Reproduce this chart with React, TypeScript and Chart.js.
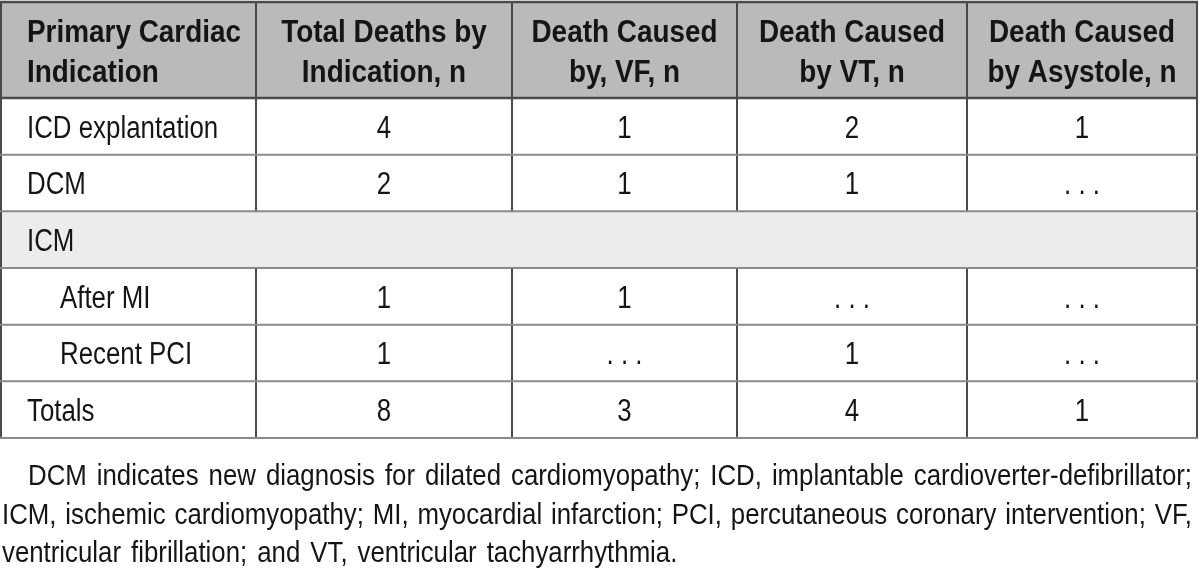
import React, { useEffect, useRef } from "react";
import { Chart, registerables } from "chart.js";

Chart.register(...registerables);

// ---------- data ----------
const headerLines: string[][] = [
  ["Primary Cardiac", "Indication"],
  ["Total Deaths by", "Indication, n"],
  ["Death Caused", "by, VF, n"],
  ["Death Caused", "by VT, n"],
  ["Death Caused", "by Asystole, n"],
];
const indications = ["ICD explantation", "DCM", "ICM", "After MI", "Recent PCI", "Totals"];
const indentLevels = [0, 0, 0, 1, 1, 0];
const groupRows = ["ICM"];
const totalDeaths: (number | null)[] = [4, 2, null, 1, 1, 8];
const vfDeaths: (number | null)[] = [1, 1, null, 1, null, 3];
const vtDeaths: (number | null)[] = [2, 1, null, null, 1, 4];
const asystoleDeaths: (number | null)[] = [1, null, null, null, null, 1];
const missingMark = ". . .";
const footnoteLines = [
  "DCM indicates new diagnosis for dilated cardiomyopathy; ICD, implantable cardioverter-defibrillator;",
  "ICM, ischemic cardiomyopathy; MI, myocardial infarction; PCI, percutaneous coronary intervention; VF,",
  "ventricular fibrillation; and VT, ventricular tachyarrhythmia.",
];

// ---------- layout / style ----------
const COL_WIDTHS = [255, 256, 225, 230, 230];
const HEADER_UNITS = 96;
const ROW_UNITS = 56.67;
const FAMILY = '"Liberation Sans", Arial, sans-serif';
const BODY_FONT = `31px ${FAMILY}`;
const HEAD_FONT = `bold 31px ${FAMILY}`;
const NOTE_FONT = `30px ${FAMILY}`;
const BODY_SX = 0.834;
const HEAD_SX = 0.9;
const NOTE_SX = 0.86;
const NOTE_SPACE = 1.4;
const TEXT_COLOR = "#151515";
const HEADER_BG = "#b9babc";
const GROUP_BG = "#ececec";
const DARK_LINE = "#4a4a4a";
const LIGHT_LINE = "#8a8a8a";

function drawScaledText(
  ctx: CanvasRenderingContext2D,
  text: string,
  x: number,
  y: number,
  align: CanvasTextAlign,
  font: string,
  sx: number
) {
  ctx.save();
  ctx.font = font;
  ctx.textAlign = align;
  ctx.textBaseline = "alphabetic";
  ctx.fillStyle = TEXT_COLOR;
  ctx.translate(x, y);
  ctx.scale(sx, 1);
  ctx.fillText(text, 0, 0);
  ctx.restore();
}

function drawJustified(
  ctx: CanvasRenderingContext2D,
  text: string,
  left: number,
  right: number,
  y: number,
  font: string,
  sx: number,
  justify: boolean
) {
  ctx.save();
  ctx.font = font;
  ctx.fillStyle = TEXT_COLOR;
  ctx.textBaseline = "alphabetic";
  ctx.textAlign = "left";
  const words = text.split(" ");
  const widths = words.map((w) => ctx.measureText(w).width * sx);
  const spaceW = ctx.measureText(" ").width * sx * NOTE_SPACE;
  const total = widths.reduce((a, b) => a + b, 0);
  const gap = justify && words.length > 1 ? (right - left - total) / (words.length - 1) : spaceW;
  let x = left;
  words.forEach((w, i) => {
    ctx.save();
    ctx.translate(x, y);
    ctx.scale(sx, 1);
    ctx.fillText(w, 0, 0);
    ctx.restore();
    x += widths[i] + gap;
  });
  ctx.restore();
}

const tablePlugin = {
  id: "tablePlugin",
  afterDraw(chart: any) {
    const ctx: CanvasRenderingContext2D = chart.ctx;
    const xs = chart.scales.x;
    const ys = chart.scales.y;
    const columns = [indications, totalDeaths, vfDeaths, vtDeaths, asystoleDeaths];

    const colEdges: number[] = [0];
    COL_WIDTHS.forEach((w) => colEdges.push(colEdges[colEdges.length - 1] + w));
    const rowEdges: number[] = [0, HEADER_UNITS];
    indications.forEach(() => rowEdges.push(rowEdges[rowEdges.length - 1] + ROW_UNITS));

    const X = (v: number) => xs.getPixelForValue(v);
    const Y = (v: number) => ys.getPixelForValue(v);
    const left = X(0);
    const right = X(colEdges[colEdges.length - 1]);

    ctx.save();
    // backgrounds
    ctx.fillStyle = "#ffffff";
    ctx.fillRect(left, Y(0), right - left, Y(rowEdges[rowEdges.length - 1]) - Y(0));
    ctx.fillStyle = HEADER_BG;
    ctx.fillRect(left, Y(0), right - left, Y(HEADER_UNITS) - Y(0));
    indications.forEach((name, i) => {
      if (groupRows.includes(name)) {
        ctx.fillStyle = GROUP_BG;
        ctx.fillRect(left, Y(rowEdges[i + 1]), right - left, Y(rowEdges[i + 2]) - Y(rowEdges[i + 1]));
      }
    });

    // vertical lines
    ctx.lineWidth = 2;
    ctx.strokeStyle = DARK_LINE;
    colEdges.forEach((e, ci) => {
      const px = X(e);
      const isOuter = ci === 0 || ci === colEdges.length - 1;
      const segs: [number, number][] = [];
      segs.push([rowEdges[0], rowEdges[1]]);
      indications.forEach((name, ri) => {
        if (isOuter || !groupRows.includes(name)) segs.push([rowEdges[ri + 1], rowEdges[ri + 2]]);
      });
      segs.forEach(([a, b]) => {
        ctx.beginPath();
        ctx.moveTo(px, Y(a));
        ctx.lineTo(px, Y(b));
        ctx.stroke();
      });
    });

    // horizontal lines
    rowEdges.forEach((e, ri) => {
      ctx.beginPath();
      ctx.lineWidth = ri <= 1 ? 2.5 : 2;
      ctx.strokeStyle = ri <= 1 ? DARK_LINE : LIGHT_LINE;
      ctx.moveTo(left - 1, Y(e));
      ctx.lineTo(right + 1, Y(e));
      ctx.stroke();
    });

    // header text
    const headCenter = Y(HEADER_UNITS / 2);
    headerLines.forEach((lines, ci) => {
      lines.forEach((t, li) => {
        const baseline = headCenter + (li - (lines.length - 1) / 2) * 40 + 12.5;
        if (ci === 0) drawScaledText(ctx, t, X(colEdges[0]) + 26, baseline, "left", HEAD_FONT, HEAD_SX);
        else drawScaledText(ctx, t, X((colEdges[ci] + colEdges[ci + 1]) / 2), baseline, "center", HEAD_FONT, HEAD_SX);
      });
    });

    // body text
    indications.forEach((name, ri) => {
      const baseline = Y((rowEdges[ri + 1] + rowEdges[ri + 2]) / 2) + 11.5;
      drawScaledText(ctx, name, X(colEdges[0]) + 26 + indentLevels[ri] * 33, baseline, "left", BODY_FONT, BODY_SX);
      if (groupRows.includes(name)) return;
      for (let ci = 1; ci < columns.length; ci++) {
        const v = columns[ci][ri] as number | null;
        const cx = X((colEdges[ci] + colEdges[ci + 1]) / 2);
        drawScaledText(ctx, v === null ? missingMark : String(v), cx, baseline, "center", BODY_FONT, BODY_SX);
      }
    });

    // footnote
    const tableBottom = Y(rowEdges[rowEdges.length - 1]);
    footnoteLines.forEach((line, i) => {
      const baseline = tableBottom + 47 + i * 38.5;
      const l = i === 0 ? left + 27 : left + 1;
      drawJustified(ctx, line, l, right - 5, baseline, NOTE_FONT, NOTE_SX, i < footnoteLines.length - 1);
    });
    ctx.restore();
  },
};

export default function App() {
  const canvasRef = useRef<HTMLCanvasElement | null>(null);

  useEffect(() => {
    document.body.style.margin = "0";
    document.body.style.background = "#ffffff";
    const canvas = canvasRef.current;
    if (!canvas) return;
    const totalUnits = HEADER_UNITS + indications.length * ROW_UNITS;
    const chart = new Chart(canvas, {
      type: "scatter",
      data: { datasets: [] },
      options: {
        animation: false,
        responsive: false,
        devicePixelRatio: 1,
        layout: { padding: { left: 1, right: 3, top: 2, bottom: 575 - 2 - 436 } },
        plugins: { legend: { display: false }, tooltip: { enabled: false }, title: { display: false } },
        scales: {
          x: { type: "linear", display: false, min: 0, max: COL_WIDTHS.reduce((a, b) => a + b, 0) },
          y: { type: "linear", display: false, min: 0, max: totalUnits, reverse: true },
        },
      },
      plugins: [tablePlugin],
    });
    return () => chart.destroy();
  }, []);

  return (
    <div style={{ position: "absolute", left: 0, top: 0, width: 1200, height: 575, background: "#fff" }}>
      <canvas ref={canvasRef} width={1200} height={575} style={{ display: "block", width: 1200, height: 575 }} />
    </div>
  );
}
